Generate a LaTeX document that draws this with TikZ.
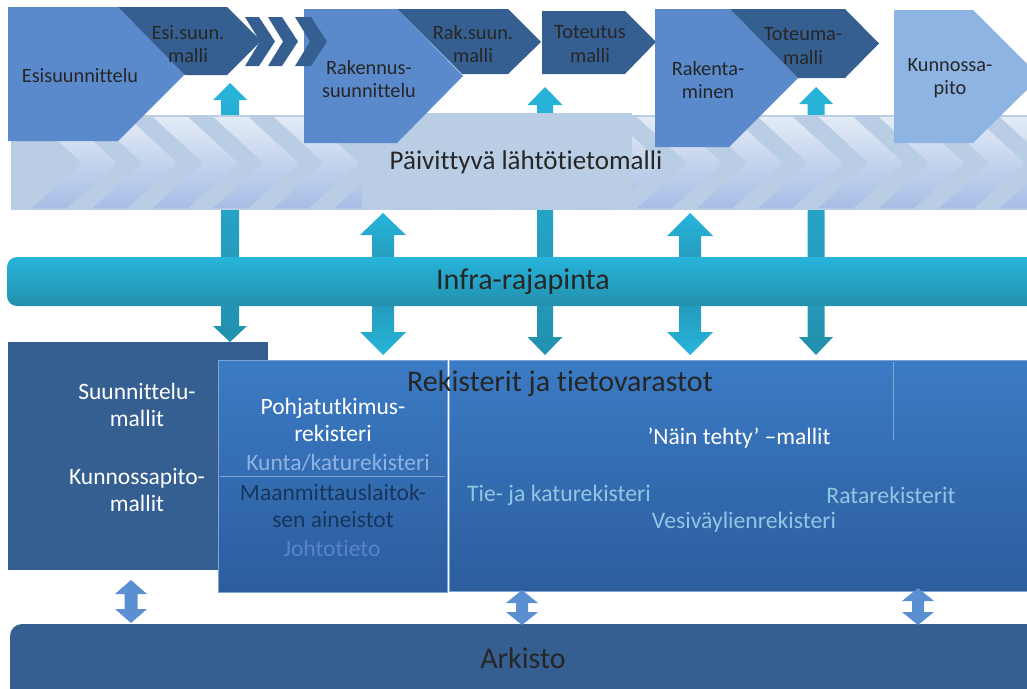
\documentclass[tikz,border=0pt]{standalone}
\usepackage{fontspec}
\setmainfont{Carlito}[Ligatures=NoCommon]
\usetikzlibrary{calc}

\definecolor{phaselight}{HTML}{5A8ACB}
\definecolor{phasepale}{HTML}{8EB4E3}
\definecolor{modeldark}{HTML}{365F91}
\definecolor{bandfill}{HTML}{B9CDE5}
\definecolor{stripetop}{HTML}{E3EBF6}
\definecolor{stripebot}{HTML}{A6BDE5}
\definecolor{cyantop}{HTML}{27B4DA}
\definecolor{cyanbot}{HTML}{2390AE}
\definecolor{regtop}{HTML}{3B7BC5}
\definecolor{regbot}{HTML}{2C5D9D}
\definecolor{regedge}{HTML}{7FA5D8}
\definecolor{archarrow}{HTML}{5A8FD1}
\definecolor{inkdark}{HTML}{262626}
\definecolor{paleblue}{HTML}{8DB3E2}
\definecolor{navy}{HTML}{17365D}
\definecolor{dimblue}{HTML}{5585C8}
\definecolor{skyblue}{HTML}{8FC6E4}

% double-headed block arrow: style, x, tip1, base1, base2, tip2, head half, shaft half
\newcommand\BlkTwoWay[8]{%
  \path[#1] (#2,#3) -- (#2+#7,#4) -- (#2+#8,#4) -- (#2+#8,#5) -- (#2+#7,#5)
    -- (#2,#6) -- (#2-#7,#5) -- (#2-#8,#5) -- (#2-#8,#4) -- (#2-#7,#4) -- cycle;}
% single-headed block arrow: style, x, tip, base, shaft end, head half, shaft half
\newcommand\BlkOneWay[7]{%
  \path[#1] (#2,#3) -- (#2+#6,#4) -- (#2+#7,#4) -- (#2+#7,#5) -- (#2-#7,#5)
    -- (#2-#7,#4) -- (#2-#6,#4) -- cycle;}

\begin{document}
\begin{tikzpicture}[x=1pt,y=-1pt,
  phasetxt/.style={inner sep=0pt, align=center, text=inkdark,
    font=\fontsize{20.3}{23.5}\selectfont},
  bigtxt/.style={inner sep=0pt, text=inkdark, font=\fontsize{30}{34}\selectfont},
  boxtxt/.style={inner sep=0pt, align=center, font=\fontsize{23.5}{27.5}\selectfont},
  regtxt/.style={inner sep=0pt, font=\fontsize{23.7}{27}\selectfont, text=skyblue},
  cyanpipe/.style={top color=cyantop, bottom color=cyanbot},
  cyanup/.style={top color=cyantop, bottom color=cyanbot},
  cyandown/.style={top color=cyanbot, bottom color=cyantop},
  regbox/.style={top color=regtop, bottom color=regbot, draw=regedge, line width=0.8pt},
]
\useasboundingbox (0,0) rectangle (1027,688);
\clip (0,0) rectangle (1027,688);

% ---- arrows linking the phase models to the interface (behind the bands)
\BlkTwoWay{cyanpipe}{230}{83}{100}{326}{342}{17}{9}
\BlkTwoWay{cyanpipe}{545}{87}{105}{337}{355}{17.5}{8}
\BlkTwoWay{cyanpipe}{816}{87}{104}{337}{355}{17}{8.5}
\BlkOneWay{cyanup}{383}{213}{235}{282}{23}{11}
\BlkOneWay{cyandown}{383}{355}{332}{282}{23}{11}
\BlkOneWay{cyanup}{690}{213}{236}{282}{23}{11}
\BlkOneWay{cyandown}{690}{355}{332}{282}{23}{11}

% ---- updating base data band with its chevron pattern
\fill[bandfill] (11,115) rectangle (1040,210);
\begin{scope}
  \clip (11,117) rectangle (1040,208);
  \foreach \i in {0,...,16} {
    \pgfmathsetmacro\sx{32+60.5*\i}
    \path[top color=stripetop, bottom color=stripebot]
      (\sx,117) -- (\sx+35,117) -- (\sx+85,163) -- (\sx+35,208)
      -- (\sx,208) -- (\sx+50,163) -- cycle;
  }
\end{scope}
\fill[bandfill] (362,113) rectangle (632,208);
\node[bigtxt, font=\fontsize{27}{31}\selectfont] (band) at (526,162) {Päivittyvä lähtötietomalli};

% ---- phases (light) and their models (dark)
\fill[phaselight] (8,7) -- (118,7) -- (185,74) -- (118,141) -- (8,141) -- cycle;
\fill[modeldark] (118,7) -- (227,7) -- (261,41) -- (227,75) -- (185,75) -- cycle;
\fill[phaselight] (304,9) -- (397,9) -- (463,76) -- (397,143) -- (304,143) -- cycle;
\fill[modeldark] (397,9) -- (508,9) -- (541,42) -- (508,74) -- (462,74) -- cycle;
\foreach \cx/\w in {245/14, 268/14, 295/16} {
  \fill[modeldark] (\cx,17) -- (\cx+\w,17) -- (\cx+\w+16,41.5) -- (\cx+\w,66)
    -- (\cx,66) -- (\cx+15,41.5) -- cycle;
}
\fill[modeldark] (542,11) -- (625,11) -- (656,42) -- (625,74) -- (542,74) -- cycle;
\fill[phaselight] (655,9) -- (730,9) -- (798,78) -- (729,147) -- (655,147) -- cycle;
\fill[modeldark] (730,9) -- (845,9) -- (879,43.5) -- (845,78) -- (798,78) -- cycle;
\fill[phasepale] (894,10) -- (973,10) -- (1040,77) -- (973,143) -- (894,143) -- cycle;

\node[phasetxt] (esi)   at (80,76)  {Esisuunnittelu};
\node[phasetxt] (esim)  at (188,44) {Esi.suun.\\malli};
\node[phasetxt] (rak)   at (369,79) {Rakennus-\\suunnittelu};
\node[phasetxt] (rakm)  at (473,44) {Rak.suun.\\malli};
\node[phasetxt] (tot)   at (590,44) {Toteutus\\malli};
\node[phasetxt] (raken) at (708,80) {Rakenta-\\minen};
\node[phasetxt] (totm)  at (803,46) {Toteuma-\\malli};
\node[phasetxt] (kunn)  at (950,78) {Kunnossa-\\pito};

% ---- interface bar
\path[top color=cyantop, bottom color=cyanbot, rounded corners=10pt]
  (7,257) rectangle (1045,306);
\node[bigtxt] (infra) at (523,282) {Infra-rajapinta};

% ---- models, registers and data stores
\fill[modeldark] (8,342) rectangle (268,570);
\node[boxtxt, text=white] (suun) at (137,405) {Suunnittelu-\\mallit};
\node[boxtxt, text=white] (kunm) at (137,490) {Kunnossapito-\\mallit};

\path[regbox] (218,360) rectangle (447,592);
\draw[regedge, line width=0.8pt] (220,476) -- (445,476);
\node[boxtxt, text=white]    (pohja) at (333,420) {Pohjatutkimus-\\rekisteri};
\node[boxtxt, text=paleblue] (kunta) at (338,463) {Kunta/katurekisteri};
\node[boxtxt, text=navy]     (mml)   at (333,506) {Maanmittauslaitok-\\sen aineistot};
\node[boxtxt, text=dimblue]  (johto) at (332,548) {Johtotieto};

\path[regbox] (449,360) rectangle (1045,591);
\draw[regedge, line width=0.8pt] (893,362) -- (893,440);
\node[bigtxt] (reg) at (560,384) {Rekisterit ja tietovarastot};
\node[inner sep=0pt, text=white, font=\fontsize{23.5}{27}\selectfont] (nain) at (739,438) {’Näin tehty’ –mallit};
\node[regtxt] (tie)  at (559,495) {Tie- ja katurekisteri};
\node[regtxt] (rata) at (891,495) {Ratarekisterit};
\node[regtxt] (vesi) at (744,522) {Vesiväylienrekisteri};

% ---- archive and its links
\fill[modeldark, rounded corners=12pt] (10,624) rectangle (1045,705);
\node[bigtxt] (ark) at (523,658) {Arkisto};
\BlkTwoWay{fill=archarrow}{131}{580}{594}{609}{623}{16}{6.5}
\BlkTwoWay{fill=archarrow}{522}{590}{603}{612}{625}{16}{6}
\BlkTwoWay{fill=archarrow}{918}{588}{601}{612}{625}{16}{6}
\end{tikzpicture}
\end{document}
